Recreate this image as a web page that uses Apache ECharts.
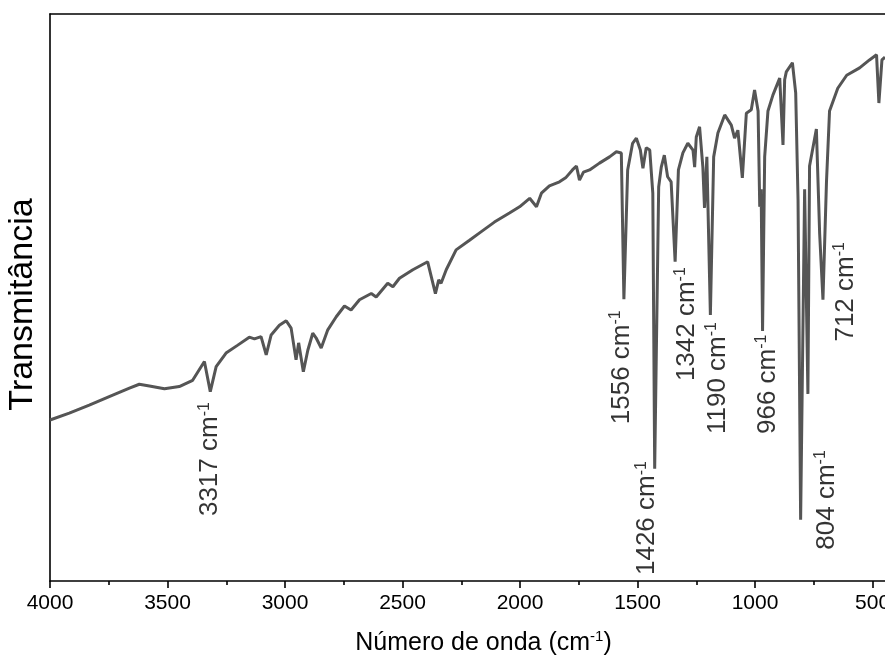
<!DOCTYPE html>
<html>
<head>
<meta charset="utf-8">
<script src="https://cdn.jsdelivr.net/npm/echarts@6/dist/echarts.min.js"></script>
<style>
html,body{margin:0;padding:0;background:#fff;overflow:hidden;}
#chart{width:885px;height:663px;}
</style>
</head>
<body>
<div id="chart"></div>
<script>
// Spectrum: wavenumber (cm-1) and transmittance (arbitrary units, 0-100)
var wavenumber = [4000,3918,3833,3748,3662,3620,3577,3513,3450,3393,3343,3318,3293,3251,3201,3152,3130,3102,3080,3059,3024,2995,2974,2953,2942,2922,2903,2882,2868,2846,2818,2782,2747,2719,2683,2633,2612,2563,2541,2513,2456,2393,2360,2346,2336,2314,2272,2215,2172,2109,2045,2002,1959,1930,1909,1875,1832,1806,1777,1760,1747,1730,1704,1662,1619,1590,1569,1558,1542,1521,1505,1488,1477,1463,1448,1435,1427,1410,1399,1386,1372,1357,1340,1326,1307,1286,1264,1257,1250,1236,1222,1215,1205,1190,1176,1158,1129,1101,1087,1073,1054,1037,1016,1002,987,980,974,968,959,945,924,895,888,881,874,867,841,827,817,806,789,775,768,739,725,711,696,683,648,610,555,513,483,473,460,447];
var transmittance = [28.4,29.6,31.0,32.5,34.0,34.7,34.4,33.9,34.3,35.4,38.7,33.4,37.8,40.2,41.6,43.0,42.7,43.1,39.9,43.4,45.1,45.9,44.6,39.0,42.0,36.9,40.7,43.7,42.9,41.1,44.3,46.6,48.5,47.8,49.6,50.7,50.1,52.5,51.9,53.4,54.9,56.3,50.7,53.1,52.5,54.9,58.4,60.1,61.4,63.3,64.9,66.0,67.5,66.0,68.4,69.7,70.4,71.1,72.5,73.2,70.7,72.1,72.5,73.7,74.8,75.7,75.5,49.7,72.5,77.2,78.1,76.0,72.8,76.4,76.0,68.4,19.8,69.5,73.0,75.1,71.3,70.4,56.3,72.5,75.5,77.2,76.0,73.0,78.3,80.1,73.0,65.8,74.8,46.9,74.8,79.0,82.2,80.4,78.1,79.5,71.1,82.5,83.1,86.6,82.9,66.0,69.1,44.1,74.8,82.9,85.7,88.7,88.9,76.9,88.4,89.8,91.4,86.1,67.2,10.8,69.1,33.0,73.2,79.7,61.2,49.6,70.4,82.9,86.9,89.2,90.5,91.9,92.8,84.3,91.9,92.4];

// Peak annotations: label text and label-centre anchor in data coordinates
var peakNames = ['3317','1556','1426','1342','1190','966','804','712'];
var peakLabelWn = [3318,1566,1459,1292,1159,946,696,614];
var peakLabelT = [21.5,37.7,11.1,45.3,35.8,34.7,14.3,51.0];

// Axis ticks
var majorTicks = [4000,3500,3000,2500,2000,1500,1000,500];
var minorTicks = [3750,3250,2750,2250,1750,1250,750];

var xMin = 447, xMax = 4000;

var chart = echarts.init(document.getElementById('chart'), null, {renderer:'canvas'});
var FONT = 'Liberation Sans, Arial, sans-serif';

var spectrum = wavenumber.map(function(w,i){return [w, transmittance[i]];});
var peaks = peakLabelWn.map(function(w,i){return [w, peakLabelT[i], peakNames[i]];});

var option = {
  animation:false,
  backgroundColor:'#fff',
  grid:{left:50, right:0, top:14, bottom:82, outerBoundsMode:'none', containLabel:false},
  xAxis:[
    {
      type:'value', inverse:true, min:xMin, max:xMax, position:'bottom',
      axisLine:{show:true, onZero:false, lineStyle:{color:'#000', width:1.6}},
      axisTick:{show:true, customValues:majorTicks, length:7, inside:false, lineStyle:{color:'#000', width:1.6}},
      axisLabel:{show:true, customValues:majorTicks, fontSize:21, margin:12, color:'#000', fontFamily:FONT,
        formatter:function(v){return String(v);}},
      splitLine:{show:false},
      name:'{a|Número de onda (cm}{s|-1}{a|)}',
      nameLocation:'middle', nameGap:48,
      nameTextStyle:{
        padding:[0,0,0,32],
        rich:{
          a:{fontSize:25, color:'#000', fontFamily:FONT, lineHeight:28},
          s:{fontSize:15, color:'#000', fontFamily:FONT, verticalAlign:'top', lineHeight:28}
        }
      }
    },
    {
      type:'value', inverse:true, min:xMin, max:xMax, position:'bottom',
      axisLine:{show:false, onZero:false},
      axisTick:{show:true, customValues:minorTicks, length:4, inside:false, lineStyle:{color:'#000', width:1.6}},
      axisLabel:{show:false},
      splitLine:{show:false}
    },
    {
      type:'value', inverse:true, min:xMin, max:xMax, position:'top',
      axisLine:{show:true, onZero:false, lineStyle:{color:'#000', width:1.6}},
      axisTick:{show:false}, axisLabel:{show:false}, splitLine:{show:false}
    }
  ],
  yAxis:{
    type:'value', min:0, max:100,
    axisLine:{show:true, onZero:false, lineStyle:{color:'#000', width:1.6}},
    axisTick:{show:false}, axisLabel:{show:false}, splitLine:{show:false},
    name:'Transmitância', nameLocation:'middle', nameRotate:90, nameGap:10,
    nameTextStyle:{fontSize:34, color:'#000', fontFamily:FONT, padding:[0,14,0,0]}
  },
  series:[
    {
      type:'line', data:spectrum, xAxisIndex:0, showSymbol:false, symbol:'none',
      lineStyle:{color:'#555555', width:3}, z:3, silent:true
    },
    {
      type:'scatter', data:peaks, xAxisIndex:0, symbolSize:1, silent:true,
      itemStyle:{color:'rgba(0,0,0,0)'},
      label:{
        show:true, position:'inside', rotate:90, align:'center', verticalAlign:'middle',
        formatter:function(p){return '{a|'+p.data[2]+' cm}{s|-1}';},
        rich:{
          a:{fontSize:26, color:'#000', fontFamily:FONT, lineHeight:28},
          s:{fontSize:16, color:'#000', fontFamily:FONT, verticalAlign:'top', lineHeight:28}
        }
      },
      labelLayout:{hideOverlap:false}, z:4
    }
  ]
};
chart.setOption(option);
</script>
</body>
</html>
